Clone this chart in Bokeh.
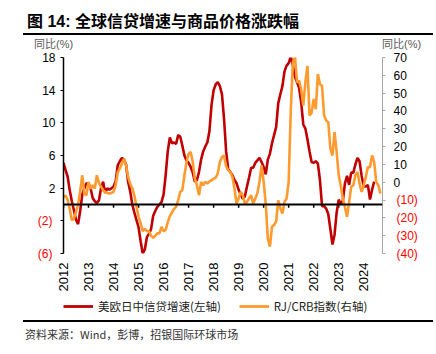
import numpy as np
from bokeh.plotting import figure
from bokeh.layouts import column
from bokeh.models import (Range1d, LinearAxis, FixedTicker, Span, Div,
                          Legend, LegendItem)
from bokeh.embed import file_html
from bokeh.resources import INLINE

# ---------------- data ----------------
title_text = "图 14: 全球信贷增速与商品价格涨跌幅"
source_text = "资料来源：Wind，彭博，招银国际环球市场"
series_names = ["美欧日中信贷增速(左轴)", "RJ/CRB指数(右轴)"]
unit_label = "同比(%)"

start_month = "2012-01"
years = list(range(2012, 2025))

# global credit growth (US/EU/JP/CN), % yoy, monthly from 2012-01
credit = [
    5.1, 4.2, 3.4, 1.7, 0.4, -0.7, -1.9, -2.4, -0.8, 1.2, 2.0, 2.6,
    2.5, 2.0, 0.8, 0.4, 0.2, 0.5, 2.0, 2.8, 1.4, 2.0, 1.8, 2.0,
    2.2, 2.8, 4.8, 5.3, 5.7, 5.5, 4.9, 2.8, 1.6, 0.0, -1.0, -1.9,
    -2.8, -4.5, -6.0, -5.5, -4.0, -3.6, -3.0, -1.4, -0.8, -0.3, 0.0, 0.3,
    1.2, 3.6, 6.5, 8.2, 7.5, 7.6, 7.4, 8.5, 8.3, 7.2, 6.0, 5.4,
    5.1, 4.6, 3.9, 2.8, 3.0, 4.0, 5.5, 6.5, 7.1, 7.6, 9.0, 12.2,
    14.0, 14.7, 15.0, 14.5, 13.5, 10.5, 6.5, 4.3, 4.0, 3.6, 3.0, 2.6,
    1.8, 1.2, 0.7, 1.0, 2.2, 3.3, 4.5, 4.5, 5.1, 5.4, 5.7, 5.2,
    4.6, 3.7, 5.5, 6.2, 7.5, 8.5, 9.5, 12.4, 13.5, 14.5, 16.3, 17.0,
    17.3, 18.1, 17.1, 15.6, 15.0, 14.3, 12.5, 9.8, 9.3, 8.0, 6.5, 5.2,
    5.1, 5.3, 5.0, 3.0, -0.2, -0.2, -0.5, -1.2, -3.0, -4.9, -3.7, -1.0,
    0.6, 0.0, 0.5, 2.6, 3.5, 2.4, 3.9, 3.9, 4.9, 5.7, 5.3, 3.5,
    2.2, 2.2, 2.4, 0.6, 1.8, 2.8,
]

# RJ/CRB index, % yoy, monthly from 2012-01
crb = [
    -8.2, -7.5, -10.0, -15.0, -21.3, -20.3, -16.5, -12.5, -5.0, 3.9, -6.5, -7.3,
    0.2, -3.6, -1.7, -3.6, 3.9, -0.5, -2.5, -4.5, -5.4, -6.0, -6.3, -6.0,
    -5.4, -1.7, 5.5, 7.6, 10.4, 13.2, 9.4, 3.0, -1.0, -3.5, -7.5, -13.5,
    -19.4, -23.0, -27.5, -26.2, -27.5, -27.5, -30.0, -31.3, -30.0, -28.7, -28.7, -25.0,
    -27.5, -26.8, -22.5, -19.0, -17.0, -15.0, -13.8, -10.1, -5.4, -4.5, 3.9, 11.3,
    16.0, 16.9, 11.3, 2.0, -1.7, -7.3, 0.2, -1.7, 0.2, -0.7, 0.5, 1.1,
    2.0, 2.5, 5.0, 11.3, 14.1, 15.0, 9.0, 6.7, 5.7, 3.0, -3.6, -12.0,
    -9.2, -5.4, -7.3, -12.0, -11.0, -9.0, -7.3, -12.0, -9.2, -6.0, 0.2, 9.4,
    0.2, -12.0, -31.5, -36.2, -25.0, -24.0, -22.0, -10.1, -14.7, -17.5, -11.0, -9.2,
    0.2, 40.0, 67.0, 71.0, 56.0, 57.0, 52.0, 43.0, 56.0, 65.3, 37.4, 39.0,
    46.7, 41.0, 60.7, 55.0, 54.0, 37.4, 34.6, 33.7, 18.8, 15.0, 28.1, 17.0,
    3.9, -2.0, -9.2, -14.0, -19.4, -11.0, -2.6, -1.7, 3.9, 5.7, -0.8, -5.4,
    -1.7, 3.0, 8.5, 8.5, 15.0, 11.3, 0.2, -1.7, -6.4,
]

left_ticks = [-6, -2, 2, 6, 10, 14, 18]
right_ticks = [-40, -30, -20, -10, 0, 10, 20, 30, 40, 50, 60, 70]
left_range = (-6, 18)
right_range = (-40, 70)
x_start, x_end = 2012, 2024.75


def month_positions(start, n):
    y0, m0 = (int(s) for s in start.split("-"))
    return [y0 + (m0 - 1 + i) / 12.0 for i in range(n)]


def paren_fmt(v):
    return "(%d)" % abs(v) if v < 0 else "%d" % v


RED = "#C00000"
ORANGE = "#FF9A2E"
NEG = "#FF0000"
NUM_FONT = "Liberation Sans"
CJK_FONT = "Noto Sans CJK SC"
TICK_FS = "12px"
W = 436
HEAD_H, FIG_H, LEG_H, FOOT_H = 50, 244, 24, 36

# ---------------- header / footer (title, rules, units, source) ----------------
FF = "font-family:'Liberation Sans','Noto Sans CJK SC',sans-serif;white-space:nowrap;"
header_html = (
    f'<div style="position:relative;width:{W}px;height:{HEAD_H}px;">'
    f'<div style="position:absolute;left:27px;top:12px;{FF}font-weight:bold;'
    f'font-size:16px;line-height:19px;color:#000;">{title_text}</div>'
    f'<div style="position:absolute;left:23px;top:33px;width:410px;height:2px;'
    f'background:#000;"></div>'
    f'<div style="position:absolute;left:34px;top:38px;{FF}font-size:11px;'
    f'line-height:13px;color:#595959;">{unit_label}</div>'
    f'<div style="position:absolute;left:382px;top:38px;{FF}font-size:11px;'
    f'line-height:13px;color:#595959;">{unit_label}</div>'
    f'</div>'
)
footer_html = (
    f'<div style="position:relative;width:{W}px;height:{FOOT_H}px;">'
    f'<div style="position:absolute;left:23px;top:2px;width:410px;height:2px;'
    f'background:#000;"></div>'
    f'<div style="position:absolute;left:25px;top:9px;font-family:\'Noto Sans CJK SC\','
    f'sans-serif;white-space:nowrap;font-size:11px;line-height:14px;color:#333;">'
    f'{source_text}</div>'
    f'</div>'
)
header = Div(text=header_html, width=W, height=HEAD_H, margin=0,
             styles={"overflow": "visible"})
footer = Div(text=footer_html, width=W, height=FOOT_H, margin=0,
             styles={"overflow": "visible"})

# ---------------- chart ----------------
p = figure(width=W, height=FIG_H, output_backend="svg", toolbar_location=None,
           x_range=Range1d(x_start, x_end), y_range=Range1d(*left_range),
           y_axis_location=None,
           min_border_left=63, min_border_right=54,
           min_border_top=7, min_border_bottom=40)
p.outline_line_color = None
p.xgrid.visible = False
p.ygrid.visible = False
p.extra_y_ranges = {"r": Range1d(*right_range)}


def style_labels(ax, color):
    ax.major_label_text_font = NUM_FONT
    ax.major_label_text_font_size = TICK_FS
    ax.major_label_text_color = color
    ax.minor_tick_line_color = None


# left: inner axis (line, ticks, non-negative labels) + outer axis (red negative labels)
la_in = LinearAxis(ticker=FixedTicker(ticks=left_ticks))
la_in.axis_line_color = "black"
la_in.axis_line_width = 1.5
la_in.major_tick_line_color = "black"
la_in.major_tick_in = 0
la_in.major_tick_out = 3
la_in.major_label_standoff = 5
la_in.major_label_overrides = {t: ("" if t < 0 else paren_fmt(t)) for t in left_ticks}
style_labels(la_in, "black")
p.add_layout(la_in, "left")

neg_left = [t for t in left_ticks if t < 0]
la_out = LinearAxis(ticker=FixedTicker(ticks=neg_left))
la_out.axis_line_color = None
la_out.major_tick_line_color = None
la_out.major_tick_in = 0
la_out.major_tick_out = 0
la_out.major_label_standoff = -13
la_out.major_label_overrides = {t: paren_fmt(t) for t in neg_left}
style_labels(la_out, NEG)
p.add_layout(la_out, "left")

# right: same scheme on the secondary range
ra_in = LinearAxis(y_range_name="r", ticker=FixedTicker(ticks=right_ticks))
ra_in.axis_line_color = "#A6A6A6"
ra_in.major_tick_line_color = "#A6A6A6"
ra_in.major_tick_in = 0
ra_in.major_tick_out = 3
ra_in.major_label_standoff = 8
ra_in.major_label_overrides = {t: ("" if t < 0 else paren_fmt(t)) for t in right_ticks}
style_labels(ra_in, "black")
p.add_layout(ra_in, "right")

neg_right = [t for t in right_ticks if t < 0]
ra_out = LinearAxis(y_range_name="r", ticker=FixedTicker(ticks=neg_right))
ra_out.axis_line_color = None
ra_out.major_tick_line_color = None
ra_out.major_tick_in = 0
ra_out.major_tick_out = 0
ra_out.major_label_standoff = -13
ra_out.major_label_overrides = {t: paren_fmt(t) for t in neg_right}
style_labels(ra_out, NEG)
p.add_layout(ra_out, "right")

# bottom axis: year labels only
xa = p.xaxis[0]
xa.ticker = FixedTicker(ticks=years)
xa.axis_line_color = None
xa.major_tick_line_color = None
xa.major_tick_in = 0
xa.major_tick_out = 0
xa.minor_tick_line_color = None
xa.major_label_orientation = np.pi / 2
xa.major_label_standoff = 9
xa.major_label_text_font = NUM_FONT
xa.major_label_text_font_size = "13px"
xa.major_label_text_color = "black"

# zero line with year ticks
p.add_layout(Span(location=0, dimension="width", line_color="black", line_width=2))
p.segment(x0=years, y0=[0] * len(years), x1=years, y1=[-0.4] * len(years),
          line_color="black", line_width=1.5)

xc = month_positions(start_month, len(credit))
xr = month_positions(start_month, len(crb))
r1 = p.line(xc, credit, line_color=RED, line_width=2.6)
r2 = p.line(xr, crb, line_color=ORANGE, line_width=2.6, y_range_name="r")

# ---------------- legend strip (its own small plot so nothing is clipped) ----------------
# the strip's renderers carry the same series; its range shows none of them,
# so only the legend keys and labels are visible
pl = figure(width=W, height=LEG_H, output_backend="svg", toolbar_location=None,
            x_axis_location=None, y_axis_location=None,
            min_border=0, min_border_left=0, min_border_right=0,
            min_border_top=0, min_border_bottom=0,
            x_range=Range1d(0, 1), y_range=Range1d(0, 1))
pl.outline_line_color = None
pl.xgrid.visible = False
pl.ygrid.visible = False
k1 = pl.line(xc, credit, line_color=RED, line_width=2.8)
k2 = pl.line(xr, crb, line_color=ORANGE, line_width=2.8)
legend = Legend(items=[LegendItem(label=series_names[0], renderers=[k1]),
                       LegendItem(label=series_names[1], renderers=[k2])],
                location="center_left", orientation="horizontal",
                glyph_width=30, glyph_height=16, label_standoff=5, spacing=18,
                padding=0, margin=0, border_line_color=None,
                background_fill_alpha=0, label_text_font=CJK_FONT,
                label_text_font_size="11.5px", label_text_color="#222222")
pl.add_layout(legend)

layout = column(header, p, pl, footer, spacing=0, margin=0)
open("out.html", "w").write(file_html(layout, INLINE))
